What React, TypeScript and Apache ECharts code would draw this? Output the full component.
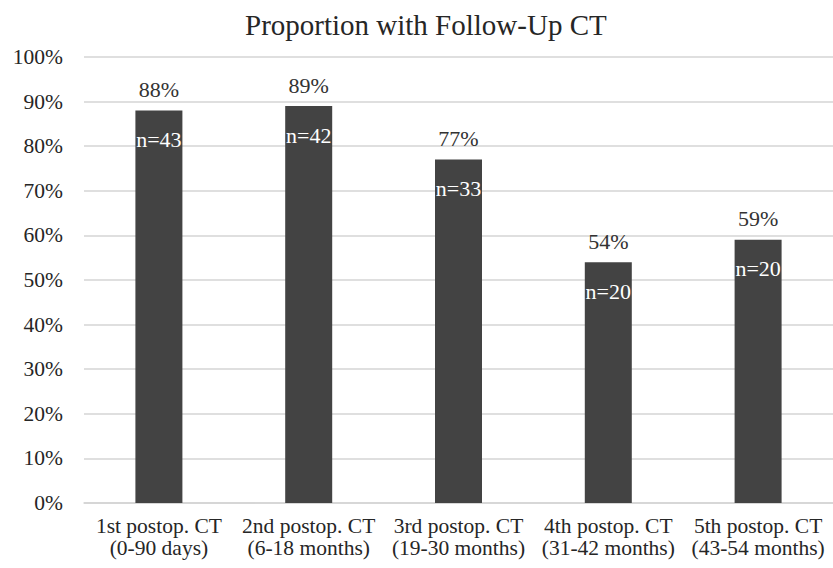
import React, { useEffect, useRef } from "react";
import * as echarts from "echarts";

// Share of patients with each follow-up CT, and the number of patients behind it
const categories = [
  "1st postop. CT\n(0-90 days)",
  "2nd postop. CT\n(6-18 months)",
  "3rd postop. CT\n(19-30 months)",
  "4th postop. CT\n(31-42 months)",
  "5th postop. CT\n(43-54 months)",
];
const proportions = [88, 89, 77, 54, 59];
const patientCounts = [43, 42, 33, 20, 20];

const FONT = '"Liberation Serif", "Times New Roman", serif';
const BAR_COLOR = "#434343";
const GRID_COLOR = "#d4d4d4";

export default function App() {
  const ref = useRef<HTMLDivElement>(null);

  useEffect(() => {
    if (!ref.current) return;
    const chart = echarts.init(ref.current, null, { renderer: "svg" });
    chart.setOption({
      animation: false,
      backgroundColor: "#ffffff",
      title: {
        text: "Proportion with Follow-Up CT",
        left: 245,
        top: 10,
        padding: 0,
        textStyle: {
          fontFamily: FONT,
          fontSize: 29,
          fontWeight: "normal",
          color: "#262626",
        },
      },
      grid: { left: 84, right: -6, top: 57, bottom: 65 },
      xAxis: {
        type: "category",
        data: categories,
        axisLine: { show: true, lineStyle: { color: GRID_COLOR, width: 1.5 } },
        axisTick: { show: false },
        axisLabel: {
          interval: 0,
          margin: 12,
          fontFamily: FONT,
          fontSize: 21.5,
          lineHeight: 22,
          color: "#262626",
        },
      },
      yAxis: {
        type: "value",
        min: 0,
        max: 100,
        interval: 10,
        axisLine: { show: false },
        axisTick: { show: false },
        splitLine: { lineStyle: { color: GRID_COLOR, width: 1.5 } },
        axisLabel: {
          formatter: "{value}%",
          margin: 21,
          fontFamily: FONT,
          fontSize: 21.5,
          color: "#262626",
        },
      },
      series: [
        {
          type: "bar",
          data: proportions,
          barWidth: 47,
          itemStyle: { color: BAR_COLOR },
          label: {
            show: true,
            position: "top",
            distance: 10,
            formatter: "{c}%",
            fontFamily: FONT,
            fontSize: 22,
            color: "#333333",
          },
        },
        {
          // transparent twin bar carrying the patient count inside each column
          type: "bar",
          data: proportions,
          barWidth: 47,
          barGap: "-100%",
          silent: true,
          itemStyle: { color: "rgba(0,0,0,0)" },
          label: {
            show: true,
            position: "insideTop",
            distance: 18,
            formatter: (p: any) => `n=${patientCounts[p.dataIndex]}`,
            fontFamily: FONT,
            fontSize: 22,
            color: "#ffffff",
          },
        },
      ],
    });
    return () => chart.dispose();
  }, []);

  return (
    <div
      ref={ref}
      style={{ width: 833, height: 568, position: "absolute", left: 0, top: 0 }}
    />
  );
}
